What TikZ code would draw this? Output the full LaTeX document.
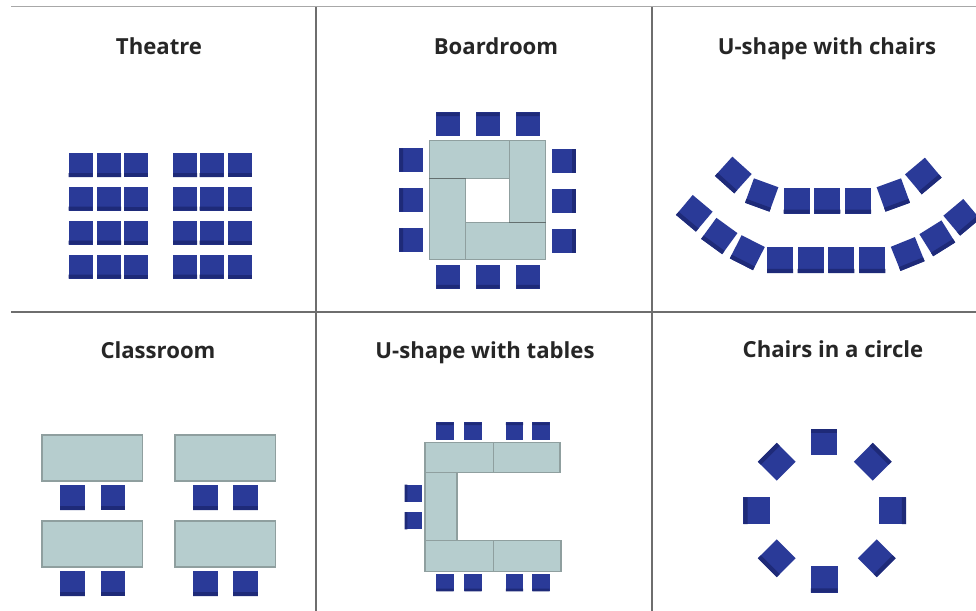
\documentclass[tikz,border=0pt]{standalone}
\usepackage{fontspec}
\setmainfont{Open Sans}
\usepackage{xcolor}
\usepackage{tikz}
\usetikzlibrary{calc}
\definecolor{chairblue}{HTML}{2A3A98}
\definecolor{chairdark}{HTML}{1E2A78}
\definecolor{tablefill}{HTML}{B6CDCE}
\definecolor{tableedge}{HTML}{8F9F9F}
\definecolor{gridline}{HTML}{6E6E6E}
\newcommand{\chairat}[5]{%
    \node [chair=#4, rotate=#5] (#1) at (#2,#3) {};
    \fill [chairdark] (#1.south west) -- (#1.south east) -- ($(#1.south east)!0.16!(#1.north east)$) -- ($(#1.south west)!0.16!(#1.north west)$) -- cycle;
}

\begin{document}
\begin{tikzpicture}[
    x=0.75pt, y=-0.75pt,
    chair/.style={rectangle, fill=chairblue, inner sep=0pt, outer sep=0pt, minimum size=#1},
    tbl/.style={draw=tableedge, fill=tablefill, line width=0.8pt},
    tbldark/.style={draw=tableedge!70!black, line width=1pt},
    grid/.style={draw=gridline, line width=1pt},
    title/.style={font=\bfseries\fontsize{16.6}{18}\selectfont, text=black!85, inner sep=0pt, anchor=base}
]
    \useasboundingbox (0,0) rectangle (976,611);
    \fill [white] (0,0) rectangle (976,611);

    \coordinate (gt) at (11,6.5);
    \coordinate (gte) at (976,6.5);
    \coordinate (gm) at (11,312);
    \coordinate (gme) at (976,312);
    \coordinate (va) at (316,7);
    \coordinate (vae) at (316,611);
    \coordinate (vb) at (652,7);
    \coordinate (vbe) at (652,611);
    \draw [grid, draw=gridline!60, line width=1.2pt] (gt) -- (gte);
    \draw [grid] (gm) -- (gme);
    \draw [grid] (va) -- (vae);
    \draw [grid] (vb) -- (vbe);

    \node [title] (t1) at (159,54) {Theatre};
    \node [title] (t2) at (496,54) {Boardroom};
    \node [title] (t3) at (827,54) {U-shape with chairs};
    \node [title] (t4) at (158,358) {Classroom};
    \node [title] (t5) at (485,358) {U-shape with tables};
    \node [title] (t6) at (833,357) {Chairs in a circle};

    % theatre
    \foreach \cy [count=\r] in {165,198.5,232.5,266.5}
        \foreach \cx [count=\c] in {80.5,109,136,185,211.5,240}
            {\chairat{th\r\c}{\cx}{\cy}{18pt}{0}}

    % boardroom
    \draw [tbl] (429.3,140.7) rectangle (509.3,178.3);
    \draw [tbl] (509.3,140.7) rectangle (545.7,222.3);
    \draw [tbl] (465.7,222.3) rectangle (545.7,259.3);
    \draw [tbl] (429.3,178.3) rectangle (465.7,259.3);
    \draw [tbldark] (429.3,178.3) -- (465.7,178.3);
    \draw [tbldark] (509.3,222.3) -- (545.7,222.3);
    \foreach \cx/\cy/\ang [count=\i] in {448/124/180,488/124/180,528/124/180,448/277/0,488/277/0,528/277/0,411/160/-90,411/200/-90,411/240/-90,564/161/90,564/201/90,564/241/90}
        {\chairat{br\i}{\cx}{\cy}{17.5pt}{\ang}}

    % u-shape with chairs
    \foreach \cx/\cy/\ang [count=\i] in {733.3/175/-42,761.7/195/-20,796.7/200.7/0,827.3/200.7/0,858/200.7/0,893.3/195/20,923.3/176/40}
        {\chairat{ui\i}{\cx}{\cy}{19.5pt}{\ang}}
    \foreach \cx/\cy/\ang [count=\i] in {694.3/213.3/-40,719.3/236/-36,747.3/252.7/-27,780/260/0,810.7/260/0,841.3/260/0,872.3/260/0,907.7/254/22,937.3/238.3/32,961.7/217.3/40}
        {\chairat{uo\i}{\cx}{\cy}{19.5pt}{\ang}}

    % classroom
    \foreach \tx/\ty in {42/435,175/435,42/521,175/521}
        \draw [tbl] (\tx,\ty) rectangle +(100.5,46);
    \foreach \cy [count=\r] in {497.7,583.7}
        \foreach \cx [count=\c] in {72.5,113,205.5,245.5}
            {\chairat{cl\r\c}{\cx}{\cy}{18.5pt}{0}}

    % u-shape with tables
    \draw [tbl] (425,442.7) rectangle (493.5,472.7);
    \draw [tbl] (493.5,442.7) rectangle (560,472.7);
    \draw [tbl] (425,472.7) rectangle (457,540.7);
    \draw [tbl] (425,540.7) rectangle (493.5,571.7);
    \draw [tbl] (493.5,540.7) rectangle (561,571.7);
    \foreach \cx/\cy/\ang [count=\i] in {445/431/180,473/431/180,514.5/431/180,541/431/180,445/582.7/0,473/582.7/0,514.5/582.7/0,541/582.7/0,413.3/493.3/-90,413.3/520.7/-90}
        {\chairat{ut\i}{\cx}{\cy}{13pt}{\ang}}

    % chairs in a circle
    \foreach \cx/\cy/\ang [count=\i] in {824/442/180,872.7/461.7/135,892.7/510.7/90,876.7/558.3/45,824.3/579.3/0,776.7/558.3/-45,756.7/510.7/-90,776.7/461.7/-135}
        {\chairat{ci\i}{\cx}{\cy}{20pt}{\ang}}
\end{tikzpicture}
\end{document}
